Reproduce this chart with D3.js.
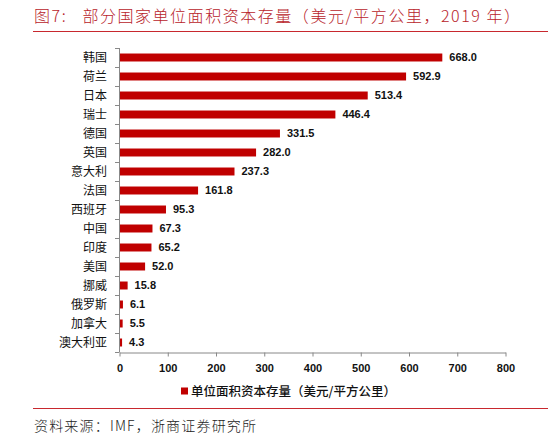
<!DOCTYPE html>
<html>
<head>
<meta charset="utf-8">
<script src="https://cdn.jsdelivr.net/npm/d3@7"></script>
<style>
  body { margin: 0; background: #fff; }
  text { font-family: "Noto Sans CJK SC", "Liberation Sans", sans-serif; }
</style>
</head>
<body>
<div id="chart"></div>
<script>
// data
var countries = ["韩国", "荷兰", "日本", "瑞士", "德国", "英国", "意大利", "法国",
                 "西班牙", "中国", "印度", "美国", "挪威", "俄罗斯", "加拿大", "澳大利亚"];
var values = [668.0, 592.9, 513.4, 446.4, 331.5, 282.0, 237.3, 161.8,
              95.3, 67.3, 65.2, 52.0, 15.8, 6.1, 5.5, 4.3];
var xTicks = [0, 100, 200, 300, 400, 500, 600, 700, 800];
var seriesName = "单位面积资本存量（美元/平方公里）";
var titleText = "图7:   部分国家单位面积资本存量（美元/平方公里，2019 年）";
var sourceText = "资料来源：IMF，浙商证券研究所";

var width = 548,
    height = 439,
    margin = {top: 48, left: 119},
    red = "#c00000";

var data = countries.map((c, i) => ({country: c, value: values[i]}));

var svg = d3.select("#chart")
  .append("svg")
  .attr("width", width)
  .attr("height", height);

// title + rule
svg.append("text")
  .attr("x", 34).attr("y", 22)
  .attr("textLength", 486)
  .attr("lengthAdjust", "spacing")
  .style("font-size", "16px")
  .style("font-weight", "300")
  .style("fill", "#b8232a")
  .attr("xml:space", "preserve")
  .text(titleText);

svg.append("line")
  .attr("x1", 33).attr("x2", width)
  .attr("y1", 31.5).attr("y2", 31.5)
  .style("stroke", "#c8282e").style("stroke-width", 1);

var g = svg.append("g")
  .attr("transform", `translate(${margin.left},${margin.top})`);

var xScale = d3.scaleLinear().domain([0, 800]).range([0, 386]);
var yScale = d3.scaleBand().domain(countries).range([0, 304]).paddingInner(0.58).paddingOuter(0.29);
var yEdges = d3.scaleBand().domain(countries).range([0, 304]);

// bars
g.selectAll(".bar")
  .data(data)
  .enter().append("rect")
  .attr("class", "bar")
  .attr("x", 1)
  .attr("y", d => yScale(d.country))
  .attr("height", yScale.bandwidth())
  .attr("width", d => xScale(d.value))
  .style("fill", red);

// value labels
g.selectAll(".lbl")
  .data(data)
  .enter().append("text")
  .attr("class", "lbl")
  .attr("x", d => xScale(d.value) + 8)
  .attr("y", d => yScale(d.country) + yScale.bandwidth() / 2)
  .attr("dy", "0.36em")
  .style("font-family", "'Liberation Sans', 'Noto Sans', sans-serif")
  .style("font-size", "11px")
  .style("font-weight", "bold")
  .style("fill", "#111")
  .text(d => d.value.toFixed(1));

// y axis: line with ticks at band edges
var yAxisG = g.append("g").attr("class", "y axis");
yAxisG.append("line")
  .attr("x1", 0.5).attr("x2", 0.5).attr("y1", 0).attr("y2", 304)
  .style("stroke", "#888");
yAxisG.selectAll(".ytick")
  .data(countries.concat(["end"]))
  .enter().append("line")
  .attr("x1", -4).attr("x2", 0.5)
  .attr("y1", (d, i) => Math.round(i * yEdges.step()) + 0.5)
  .attr("y2", (d, i) => Math.round(i * yEdges.step()) + 0.5)
  .style("stroke", "#888");
yAxisG.selectAll(".ylab")
  .data(countries)
  .enter().append("text")
  .attr("x", -12)
  .attr("y", d => yEdges(d) + yEdges.bandwidth() / 2)
  .attr("dy", "0.36em")
  .attr("text-anchor", "end")
  .style("font-size", "12px")
  .style("fill", "#111")
  .text(d => d);

// x axis
var xAxis = d3.axisBottom(xScale).tickValues(xTicks).tickSize(4).tickSizeOuter(0).tickPadding(8);
var xAxisG = g.append("g")
  .attr("class", "x axis")
  .attr("transform", `translate(0.5,${304.5})`)
  .call(xAxis);
xAxisG.select(".domain").style("stroke", "#888");
xAxisG.selectAll(".tick line").style("stroke", "#888");
xAxisG.selectAll(".tick text")
  .style("font-family", "'Liberation Sans', 'Noto Sans', sans-serif")
  .style("font-size", "11px")
  .style("font-weight", "bold")
  .style("fill", "#111");

// legend
var leg = svg.append("g").attr("transform", "translate(181,391)");
leg.append("rect")
  .attr("x", 0).attr("y", -3.5).attr("width", 7).attr("height", 7)
  .style("fill", red);
leg.append("text")
  .attr("x", 10).attr("y", 0).attr("dy", "0.36em")
  .attr("textLength", 205)
  .style("font-size", "12.5px")
  .style("font-weight", "500")
  .style("fill", "#111")
  .text(seriesName);

// bottom rule + source
svg.append("line")
  .attr("x1", 33).attr("x2", width)
  .attr("y1", 408.5).attr("y2", 408.5)
  .style("stroke", "#c8282e").style("stroke-width", 1);

svg.append("text")
  .attr("x", 34).attr("y", 431)
  .attr("textLength", 222)
  .attr("lengthAdjust", "spacing")
  .style("font-size", "14px")
  .style("font-weight", "300")
  .style("fill", "#222")
  .text(sourceText);
</script>
</body>
</html>
